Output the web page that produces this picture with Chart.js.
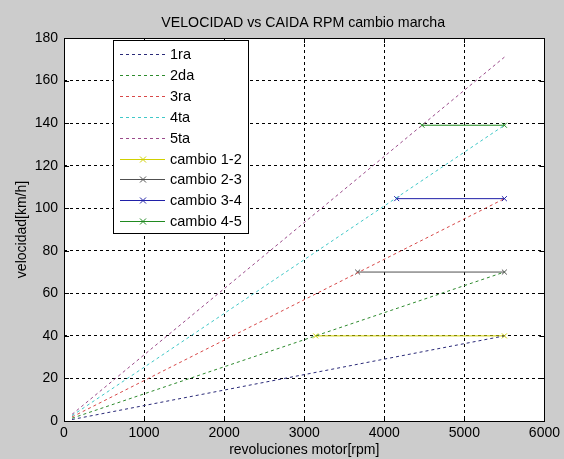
<!DOCTYPE html>
<html>
<head>
<meta charset="utf-8">
<script src="https://cdn.jsdelivr.net/npm/chart.js@4/dist/chart.umd.min.js"></script>
<style>
  html, body { margin:0; padding:0; background:#cccccc; }
  #wrap { width:564px; height:459px; position:relative; }
</style>
</head>
<body>
<div id="wrap"><canvas id="chart" width="564" height="459"></canvas></div>
<script>
// datos
const titulo = 'VELOCIDAD vs CAIDA RPM cambio marcha';
const rpmMarcha = [100, 5500];
const vel1ra = [0.7, 40];
const vel2da = [1.3, 70];
const vel3ra = [1.9, 104.5];
const vel4ta = [2.5, 139];
const vel5ta = [3.1, 171];

const rpmCambio12 = [3143, 5500];
const rpmCambio23 = [3667, 5500];
const rpmCambio34 = [4155, 5500];
const rpmCambio45 = [4471, 5500];
const velCambio12 = [40, 40];
const velCambio23 = [70, 70];
const velCambio34 = [104.5, 104.5];
const velCambio45 = [139, 139];

const xTicks = [0, 1000, 2000, 3000, 4000, 5000, 6000];
const yTicks = [0, 20, 40, 60, 80, 100, 120, 140, 160, 180];

const FONT = 'Liberation Sans, Arial, sans-serif';

function puntos(xs, ys){
    return xs.map((x,i)=>({x:x, y:ys[i]}));
}

function marcha(label, ys, color){
    return { label, data:puntos(rpmMarcha, ys), borderColor:color, borderWidth:1,
             borderDash:[3,3], pointRadius:0, fill:false, tension:0 };
}

function cambio(label, xs, ys, color){
    return { label, data:puntos(xs, ys), borderColor:color, backgroundColor:color, borderWidth:1,
             pointStyle:'crossRot', pointRadius:3.5, pointBorderWidth:1, fill:false, tension:0 };
}

const datasets = [
    marcha('1ra', vel1ra, '#2a2a78'),
    marcha('2da', vel2da, '#2e8b2e'),
    marcha('3ra', vel3ra, '#d84848'),
    marcha('4ta', vel4ta, '#40c8c8'),
    marcha('5ta', vel5ta, '#9a4a8a'),
    cambio('cambio 1-2', rpmCambio12, velCambio12, '#d0d000'),
    cambio('cambio 2-3', rpmCambio23, velCambio23, '#505050'),
    cambio('cambio 3-4', rpmCambio34, velCambio34, '#2020a8'),
    cambio('cambio 4-5', rpmCambio45, velCambio45, '#208a20')
];

// fondo blanco, marco, titulo y leyenda al estilo matlab
const estiloMatlab = {
    id:'estiloMatlab',
    beforeDraw(chart){
        const {ctx, chartArea:a} = chart;
        ctx.save();
        ctx.fillStyle = '#ffffff';
        ctx.fillRect(a.left, a.top, a.right-a.left, a.bottom-a.top);
        ctx.restore();
    },
    afterDraw(chart){
        const {ctx, chartArea:a} = chart;
        ctx.save();
        ctx.strokeStyle = '#000';
        ctx.lineWidth = 1;
        ctx.strokeRect(Math.round(a.left)+0.5, Math.round(a.top)+0.5, Math.round(a.right-a.left), Math.round(a.bottom-a.top));

        // marcas de tick hacia dentro
        const xs = chart.scales.x, ys = chart.scales.y;
        ctx.beginPath();
        xTicks.forEach(v=>{
            const px = Math.round(xs.getPixelForValue(v))+0.5;
            ctx.moveTo(px, a.bottom); ctx.lineTo(px, a.bottom-5);
            ctx.moveTo(px, a.top); ctx.lineTo(px, a.top+5);
        });
        yTicks.forEach(v=>{
            const py = Math.round(ys.getPixelForValue(v))+0.5;
            ctx.moveTo(a.left, py); ctx.lineTo(a.left+5, py);
            ctx.moveTo(a.right, py); ctx.lineTo(a.right-5, py);
        });
        ctx.stroke();

        // titulo
        ctx.fillStyle = '#000';
        ctx.font = '14.2px ' + FONT;
        ctx.textAlign = 'center';
        ctx.textBaseline = 'middle';
        ctx.fillText(titulo, (a.left+a.right)/2 - 1, 23);

        // leyenda
        const bx = 113, by = 40, bw = 135, bh = 193;
        ctx.fillStyle = '#fff';
        ctx.fillRect(bx, by, bw, bh);
        ctx.strokeRect(bx+0.5, by+0.5, bw, bh);
        ctx.font = '14.5px ' + FONT;
        ctx.textAlign = 'left';
        chart.data.datasets.forEach((ds,i)=>{
            const y = Math.round(54 + i*20.9)+0.5;
            ctx.strokeStyle = ds.borderColor;
            ctx.setLineDash(ds.borderDash || []);
            ctx.beginPath();
            ctx.moveTo(120, y); ctx.lineTo(165, y);
            ctx.stroke();
            ctx.setLineDash([]);
            if(ds.pointStyle){
                ctx.beginPath();
                ctx.moveTo(140, y-3); ctx.lineTo(146, y+3);
                ctx.moveTo(146, y-3); ctx.lineTo(140, y+3);
                ctx.stroke();
            }
            ctx.fillStyle = '#000';
            ctx.fillText(ds.label, 170, y);
        });
        ctx.restore();
    }
};

new Chart(document.getElementById('chart').getContext('2d'), {
    type:'line',
    data:{ datasets },
    options:{
        responsive:false,
        animation:false,
        layout:{ padding:{ top:38, right:17, bottom:0, left:0 } },
        plugins:{ legend:{ display:false }, title:{ display:false }, tooltip:{ enabled:false } },
        scales:{
            x:{
                type:'linear', min:0, max:6000,
                afterBuildTicks: s=>{ s.ticks = xTicks.map(v=>({value:v})); },
                afterFit: s=>{ s.height = 38; },
                ticks:{ color:'#000', font:{ family:FONT, size:14 }, padding:4, maxRotation:0,
                        callback: v=>String(v) },
                grid:{ color:'#000', lineWidth:1, drawTicks:false },
                border:{ display:false, dash:[3,3] },
                title:{ display:true, text:'revoluciones motor[rpm]', color:'#000', font:{ family:FONT, size:14 }, padding:{ top:2, bottom:0 } }
            },
            y:{
                type:'linear', min:0, max:180,
                afterBuildTicks: s=>{ s.ticks = yTicks.map(v=>({value:v})); },
                afterFit: s=>{ s.width = 64; },
                ticks:{ color:'#000', font:{ family:FONT, size:14 }, padding:6,
                        callback: v=>String(v) },
                grid:{ color:'#000', lineWidth:1, drawTicks:false },
                border:{ display:false, dash:[3,3] },
                title:{ display:true, text:'velocidad[km/h]', color:'#000', font:{ family:FONT, size:14 }, padding:{ top:14, bottom:0 } }
            }
        }
    },
    plugins:[estiloMatlab]
});
</script>
</body>
</html>
